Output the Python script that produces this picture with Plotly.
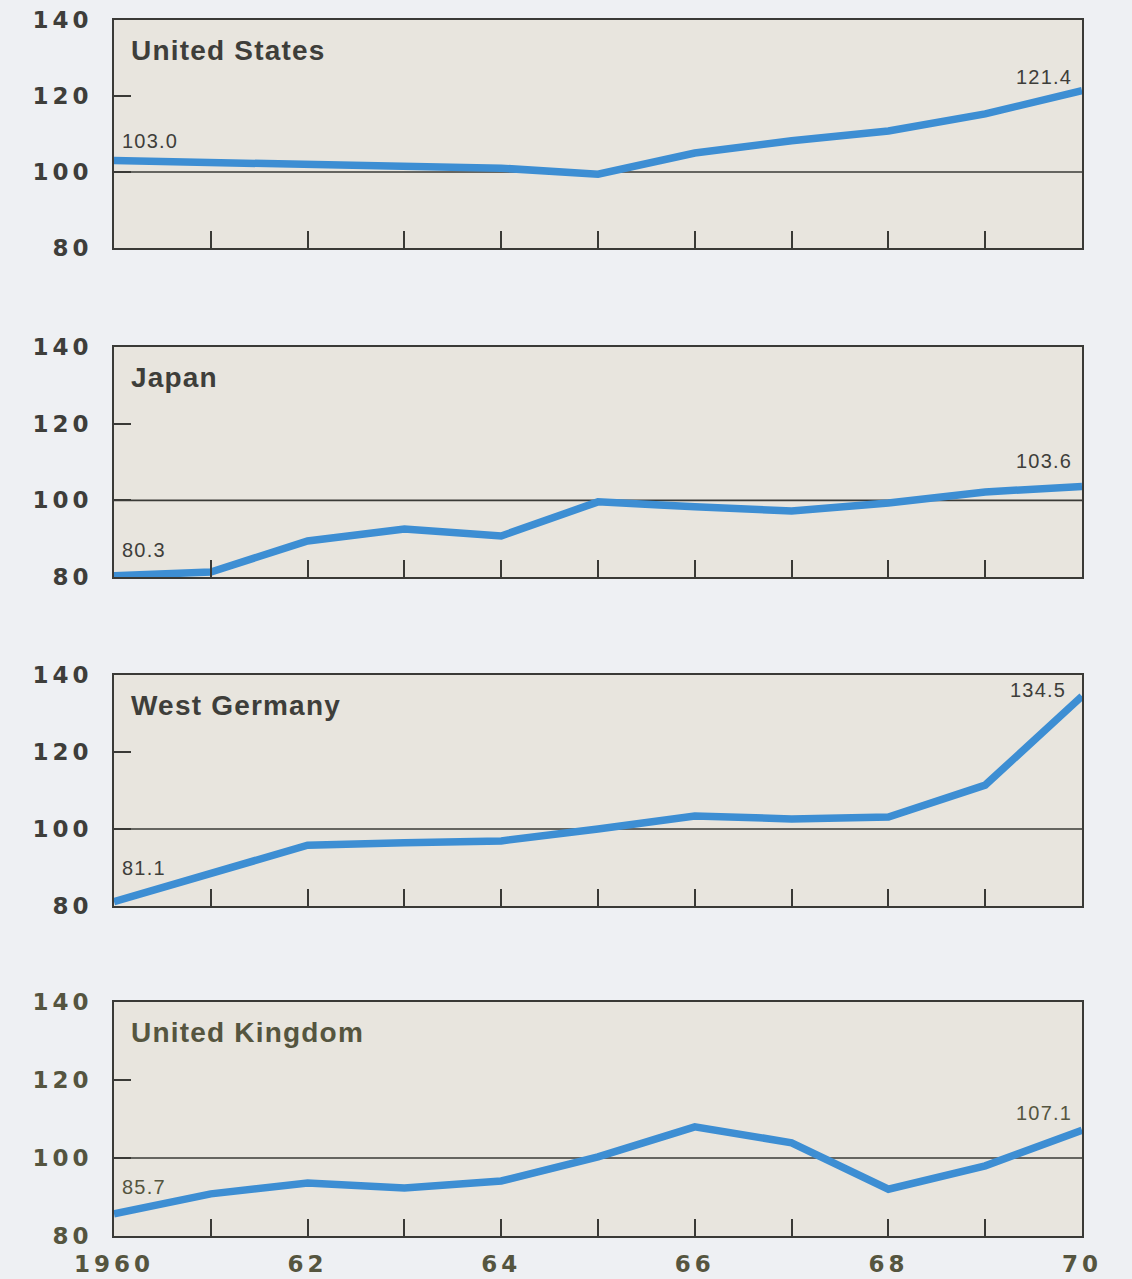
import plotly.graph_objects as go

# ---- data -------------------------------------------------------------
years = list(range(1960, 1971))
countries = ["United States", "Japan", "West Germany", "United Kingdom"]
us = [103.0, 102.6, 102.1, 101.8, 101.0, 99.4, 105.0, 108.2, 110.8, 115.3, 121.4]
japan = [80.3, 81.3, 89.4, 92.5, 90.7, 99.6, 98.3, 97.2, 99.3, 102.2, 103.6]
west_germany = [81.1, 88.6, 95.8, 96.4, 96.9, 100.0, 103.4, 102.6, 103.1, 111.4, 134.5]
united_kingdom = [85.7, 90.8, 93.6, 92.3, 94.1, 100.3, 108.0, 103.9, 92.0, 98.0, 107.1]
series = [us, japan, west_germany, united_kingdom]
y_ticks = [80, 100, 120, 140]
x_tick_labels = ["1960", "", "62", "", "64", "", "66", "", "68", "", "70"]

# ---- styling ----------------------------------------------------------
W, H = 1132, 1279
PAGE_BG = "#eef0f3"
PANEL_BG = "#e8e5de"
LINE_BLUE = "#3d8ed3"
INK = "#3e3e3a"
OLIVE_INK = "#55553f"
FRAME = "#3a3a36"

left_px, right_px = 114, 1082
panel_px = [(20, 248), (347, 577), (675, 906), (1002, 1236)]

# label offsets (pixels) for the first and last value of each series
start_offsets = [(6, 20), (6, 26), (6, 34), (6, 27)]
end_offsets = [(-8, 14), (-8, 26), (-14, 6), (-8, 17)]


def spaced(text, px):
    return f'<span style="letter-spacing:{px}px">{text}</span>'


fig = go.Figure()
layout = dict(
    width=W, height=H, autosize=False,
    margin=dict(l=0, r=0, t=0, b=0, pad=0, autoexpand=False),
    paper_bgcolor=PAGE_BG,
    plot_bgcolor=PANEL_BG,
    showlegend=False,
    shapes=[], annotations=[],
)

for i, (name, vals, (top, bot)) in enumerate(zip(countries, series, panel_px)):
    n = "" if i == 0 else str(i + 1)
    xa, ya = f"x{n}", f"y{n}"
    last = i == len(countries) - 1
    ink = OLIVE_INK if last else INK

    # 1967 = 100 reference line
    layout["shapes"].append(dict(
        type="line", xref=f"{xa} domain", yref=ya,
        x0=0, x1=1, y0=100, y1=100, line=dict(color=FRAME, width=1.7), layer="below"))

    fig.add_trace(go.Scatter(
        x=years, y=vals, mode="lines", xaxis=xa, yaxis=ya,
        line=dict(color=LINE_BLUE, width=7.5), hoverinfo="skip"))

    layout[f"xaxis{n}"] = dict(
        domain=[left_px / W, right_px / W], anchor=ya,
        range=[1960, 1970], tickvals=years,
        ticktext=[spaced(t, 4) for t in x_tick_labels],
        showticklabels=last, automargin=False,
        ticks="inside", ticklen=17, tickwidth=1.6, tickcolor=FRAME,
        ticklabelstandoff=7,
        tickfont=dict(family="DejaVu Sans", size=23, color=OLIVE_INK, weight="bold"),
        showline=True, mirror=True, linecolor=FRAME, linewidth=1.6,
        showgrid=False, zeroline=False, fixedrange=True,
    )
    layout[f"yaxis{n}"] = dict(
        domain=[1 - bot / H, 1 - top / H], anchor=xa,
        range=[80, 140], tickvals=y_ticks,
        ticktext=[spaced(str(t), 4) for t in y_ticks],
        automargin=False,
        ticks="inside", ticklen=17, tickwidth=1.6, tickcolor=FRAME,
        ticklabelstandoff=15,
        tickfont=dict(family="DejaVu Sans", size=23, color=ink, weight="bold"),
        showline=True, mirror=True, linecolor=FRAME, linewidth=1.6,
        showgrid=False, zeroline=False, fixedrange=True,
    )

    # country name
    layout["annotations"].append(dict(
        text=spaced(name, 1.2), xref=f"{xa} domain", yref=f"{ya} domain",
        x=15 / (right_px - left_px), y=1, xanchor="left", yanchor="middle",
        yshift=-30, showarrow=False,
        font=dict(family="Liberation Sans", size=28, color=ink, weight="bold")))

    # first and last values
    (sx, sy), (ex, ey) = start_offsets[i], end_offsets[i]
    layout["annotations"].append(dict(
        text=spaced(f"{vals[0]:.1f}", 1.2), xref=xa, yref=ya,
        x=years[0], y=vals[0], xanchor="left", yanchor="middle",
        xshift=sx, yshift=sy, showarrow=False,
        font=dict(family="Liberation Sans", size=20, color=ink)))
    layout["annotations"].append(dict(
        text=spaced(f"{vals[-1]:.1f}", 1.2), xref=xa, yref=ya,
        x=years[-1], y=vals[-1], xanchor="right", yanchor="middle",
        xshift=ex, yshift=ey, showarrow=False,
        font=dict(family="Liberation Sans", size=20, color=ink)))

fig.update_layout(**layout)
fig.write_html("out.html")
